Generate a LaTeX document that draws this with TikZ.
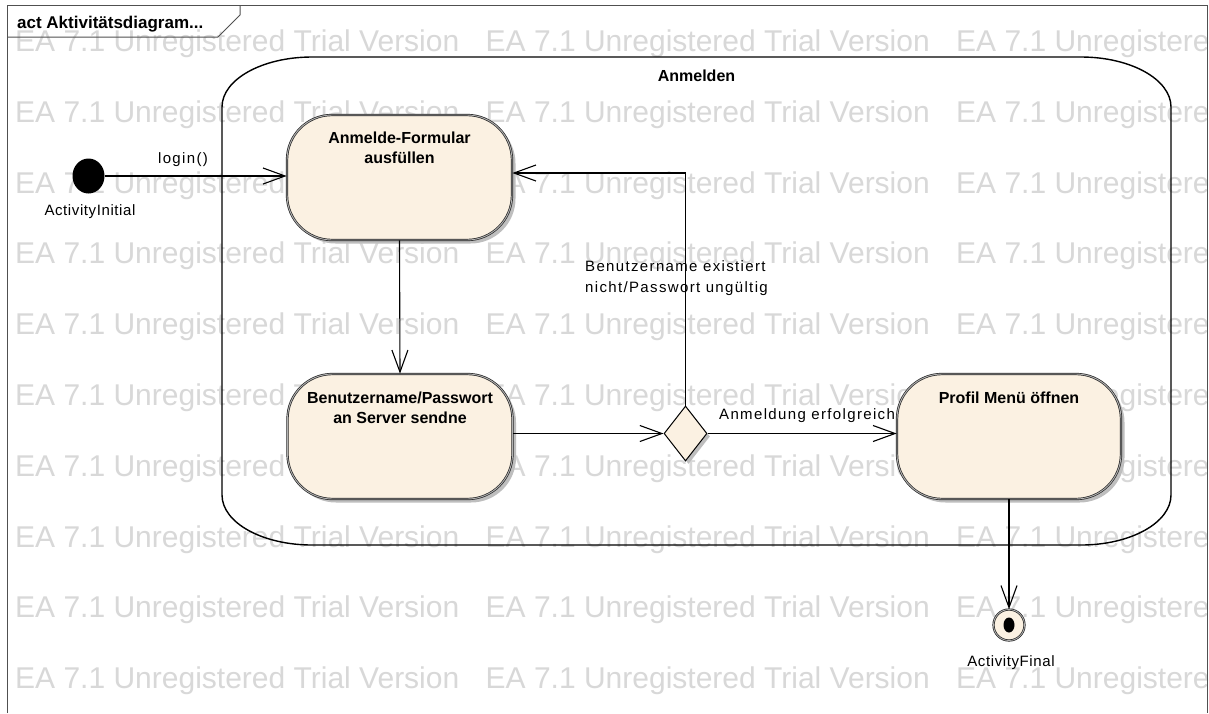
\documentclass[tikz,border=0pt]{standalone}
\usepackage{fontspec}
\setmainfont{Liberation Sans}
\newfontfamily\lblfont[LetterSpace=9]{Liberation Sans}
\newfontfamily\namefont[LetterSpace=4]{Liberation Sans}
\usetikzlibrary{arrows.meta,shapes.geometric,shadows,calc}
\definecolor{actfill}{RGB}{251,241,226}
\definecolor{wmgray}{RGB}{216,216,216}
\definecolor{framegray}{RGB}{80,80,80}
\definecolor{shadowgray}{RGB}{190,190,190}
\begin{document}
\begin{tikzpicture}[x=1pt,y=-1pt,
  wm/.style={anchor=base west, inner sep=0, text=wmgray, font=\fontsize{30pt}{30pt}\selectfont},
  lbl/.style={inner sep=0, font=\lblfont\fontsize{15pt}{18pt}\selectfont},
  namelbl/.style={inner sep=0, font=\namefont\fontsize{15pt}{18pt}\selectfont},
  bt/.style={inner sep=0, anchor=base, font=\bfseries\fontsize{16pt}{19pt}\selectfont},
  actbox/.style={draw=black!85, double=black!30, double distance=0.9pt, line width=0.7pt,
    fill=actfill, rounded corners=45pt, minimum width=225pt, minimum height=125pt, inner sep=0,
    drop shadow={shadow xshift=3.5pt, shadow yshift=-3.5pt, fill=shadowgray, opacity=1}},
  decbox/.style={diamond, draw=black, line width=1pt, fill=actfill, minimum width=43pt,
    minimum height=55pt, inner sep=0,
    drop shadow={shadow xshift=3pt, shadow yshift=-3pt, fill=shadowgray, opacity=1}},
  initnode/.style={ellipse, fill=black, minimum width=32pt, minimum height=35pt, inner sep=0},
  finnode/.style={circle, draw=black!85, double=black!30, double distance=0.8pt, line width=0.7pt,
    fill=actfill, minimum size=31pt, inner sep=0},
  conn/.style={draw=black, line width=1.1pt},
  arr/.style={conn, -{Straight Barb[length=22pt, width=16pt, line width=1.1pt]}},
  container/.style={draw=black, line width=1.4pt},
  frameline/.style={draw=framegray, line width=1pt}
]
\useasboundingbox (0,0) rectangle (1209,713);
\fill[white] (0,0) rectangle (1209,713);

% watermark rows
\foreach \k in {0,...,9} {
  \pgfmathsetmacro\yy{51.5+70.8*\k}
  \node[wm] (wmA\k) at (15,\yy) {EA 7.1 Unregistered Trial Version};
  \node[wm] (wmB\k) at (485.5,\yy) {EA 7.1 Unregistered Trial Version};
  \node[wm] (wmC\k) at (956,\yy) {EA 7.1 Unregistere};
}

% outer frame and header
\draw[frameline] (7.5,713) -- (7.5,5) -- (1207,5) -- (1207,713);
\draw[frameline] (7.5,37) -- (218,37) -- (240,15) -- (240,5);
\node[bt, anchor=base west, font=\bfseries\fontsize{17pt}{20pt}\selectfont] (hdr) at (17,28.5) {act Aktivitätsdiagram...};

% container "Anmelden"
\draw[container] (312,57) -- (1081,57)
  arc[start angle=90, end angle=0, x radius=90pt, y radius=50pt]
  -- (1171,495)
  arc[start angle=0, end angle=-90, x radius=90pt, y radius=50pt]
  -- (312,545)
  arc[start angle=-90, end angle=-180, x radius=90pt, y radius=50pt]
  -- (222,107)
  arc[start angle=180, end angle=90, x radius=90pt, y radius=50pt] -- cycle;
\node[bt] (anm) at (696.5,81) {Anmelden};

% nodes
\node[initnode] (init) at (88.5,176) {};
\node[namelbl, anchor=base] (initt) at (90,215) {ActivityInitial};

\node[actbox] (form) at (399.5,177.5) {};
\node[bt] (formt1) at (399.5,143) {Anmelde-Formular};
\node[bt] (formt2) at (399.5,163) {ausfüllen};

\node[actbox] (send) at (400,436.5) {};
\node[bt] (sendt1) at (400,403) {Benutzername/Passwort};
\node[bt] (sendt2) at (400,423) {an Server sendne};

\node[decbox] (dec) at (685.5,433.5) {};

\node[actbox, minimum width=224pt] (prof) at (1009,436.5) {};
\node[bt] (proft) at (1009,403) {Profil Menü öffnen};

\node[finnode] (fin) at (1009,625) {};
\fill[black] (fin.center) ellipse [x radius=5.5pt, y radius=7.5pt];
\node[namelbl, anchor=base] (fint) at (1011,666) {ActivityFinal};

% connectors
\draw[arr] (init.east |- init) -- (init -| form.west);
\node[lbl, anchor=base] (logint) at (183,163) {login()};
\draw[arr] (form.south) -- (send.north);
\draw[arr] (send.east |- dec.west) -- (dec.west);
\draw[arr] (dec.east) -- (prof.west |- dec.east);
\node[lbl, anchor=base west] (okt) at (719,419) {Anmeldung erfolgreich};
\draw[arr] (dec.north) |- ($(form.east)+(0,-4.5)$);
\node[lbl, anchor=base west] (failt1) at (585,271) {Benutzername existiert};
\node[lbl, anchor=base west] (failt2) at (585,292.7) {nicht/Passwort ungültig};
\draw[arr] (prof.south) -- (fin.north);
\end{tikzpicture}
\end{document}
